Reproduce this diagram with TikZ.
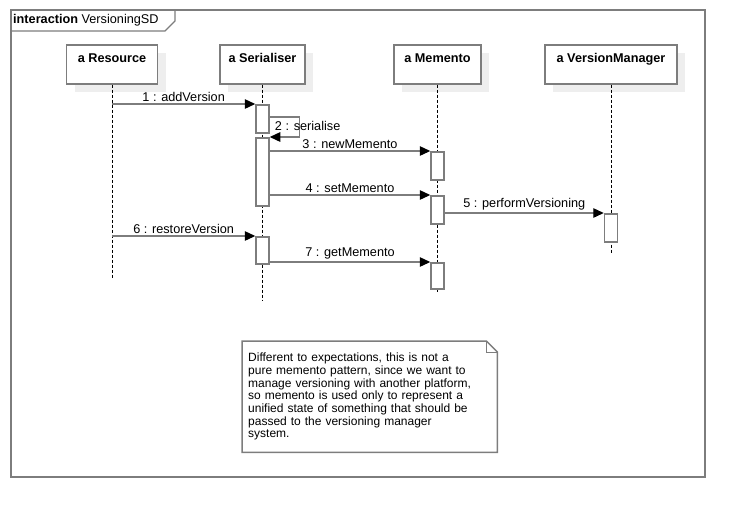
\documentclass[tikz,border=0pt]{standalone}
\usepackage{fontspec}
\setmainfont{Liberation Sans}
\usetikzlibrary{arrows.meta,shadows}

\definecolor{umlgray}{RGB}{125,125,125}
\definecolor{shadowgray}{RGB}{238,238,238}

\begin{document}
\begin{tikzpicture}[x=1pt,y=-1pt,
    every node/.style={font=\fontsize{12.7}{12.7}\selectfont},
    head/.style={draw=umlgray, line width=1.5pt, fill=white, anchor=north,
      minimum height=39pt, inner ysep=9pt, text height=9pt, text depth=12pt,
      font=\fontsize{12.7}{12.7}\selectfont\bfseries,
      general shadow={fill=shadowgray, shadow xshift=8pt, shadow yshift=-8pt}},
    act/.style={draw=umlgray, line width=1.5pt, fill=white, anchor=north,
      minimum width=13pt, inner sep=0pt},
    life/.style={densely dashed, line width=0.6pt},
    msg/.style={draw=umlgray, line width=1.3pt,
      -{Triangle[length=10.5pt,width=9.5pt,color=black]}},
    lbl/.style={above, inner sep=2pt}]

    \useasboundingbox (0,0) rectangle (744,517);

    % frame
    \node[draw=umlgray, line width=1.5pt, anchor=north west,
      minimum width=694pt, minimum height=467pt] (frame) at (10,9) {};
    \draw[umlgray, line width=1.2pt] (frame.north west) ++(0,22) -- ++(155,0)
      -- ++(10,-10) -- (frame.north west -| 175,0);
    \node[anchor=west, inner sep=0pt] (title) at (13,20)
      {\textbf{interaction} VersioningSD};

    % lifeline heads
    \node[head, minimum width=91pt] (res) at (112,44) {a Resource};
    \node[head, minimum width=85pt] (ser) at (262.5,44) {a Serialiser};
    \node[head, minimum width=87pt] (mem) at (437.5,44) {a Memento};
    \node[head, minimum width=132pt] (vm) at (611,44) {a VersionManager};

    \coordinate (resEnd) at (112,279);
    \coordinate (serEnd) at (262.5,301);
    \coordinate (memEnd) at (437.5,292);
    \coordinate (vmEnd) at (611,254);

    \draw[life] (res) -- (resEnd);
    \draw[life] (ser) -- (serEnd);
    \draw[life] (mem) -- (memEnd);
    \draw[life] (vm) -- (vmEnd);

    % activations
    \node[act, minimum height=28pt] (s1) at (262.5,104) {};
    \node[act, minimum height=68pt] (s2) at (262.5,137) {};
    \node[act, minimum height=27pt] (s3) at (262.5,236) {};
    \node[act, minimum height=28pt] (m1) at (437.5,151) {};
    \node[act, minimum height=28pt] (m2) at (437.5,195) {};
    \node[act, minimum height=26pt] (m3) at (437.5,262) {};
    \node[act, minimum height=28pt] (v1) at (611,213) {};

    % messages
    \draw[msg] (res |- s1.north) -- node[lbl] {1 : addVersion} (s1.north west);
    \draw[msg] ([yshift=-13pt]s1.north east) -- ++(30,0) |- (s2.north east);
    \node[anchor=west, inner sep=0pt] (lbl2) at ([shift={(5,7)}]s1.east) {2 : serialise};
    \draw[msg] (s2.east |- m1.north) -- node[lbl] {3 : newMemento} (m1.north west);
    \draw[msg] (s2.east |- m2.north) -- node[lbl] {4 : setMemento} (m2.north west);
    \draw[msg] (m2.east |- v1.north) -- node[lbl] {5 : performVersioning} (v1.north west);
    \draw[msg] (res |- s3.north) -- node[lbl] {6 : restoreVersion} (s3.north west);
    \draw[msg] (s3.east |- m3.north) -- node[lbl] {7 : getMemento} (m3.north west);

    % note
    \node[anchor=north west, minimum width=255pt, minimum height=111pt,
      text width=243pt, inner xsep=6pt, align=left,
      font=\fontsize{12}{12.7}\selectfont] (note) at (242,341)
      {Different to expectations, this is not a\\
       pure memento pattern, since we want to\\
       manage versioning with another platform,\\
       so memento is used only to represent a\\
       unified state of something that should be\\
       passed to the versioning manager\\
       system.};
    \draw[umlgray, line width=1.5pt] (note.north west) -- ([xshift=-11pt]note.north east)
      -- ([yshift=-11pt]note.north east) -- (note.south east) -- (note.south west) -- cycle;
    \draw[umlgray, line width=0.8pt] ([xshift=-11pt]note.north east)
      -- ([shift={(-11pt,-11pt)}]note.north east) -- ([yshift=-11pt]note.north east);
\end{tikzpicture}
\end{document}
